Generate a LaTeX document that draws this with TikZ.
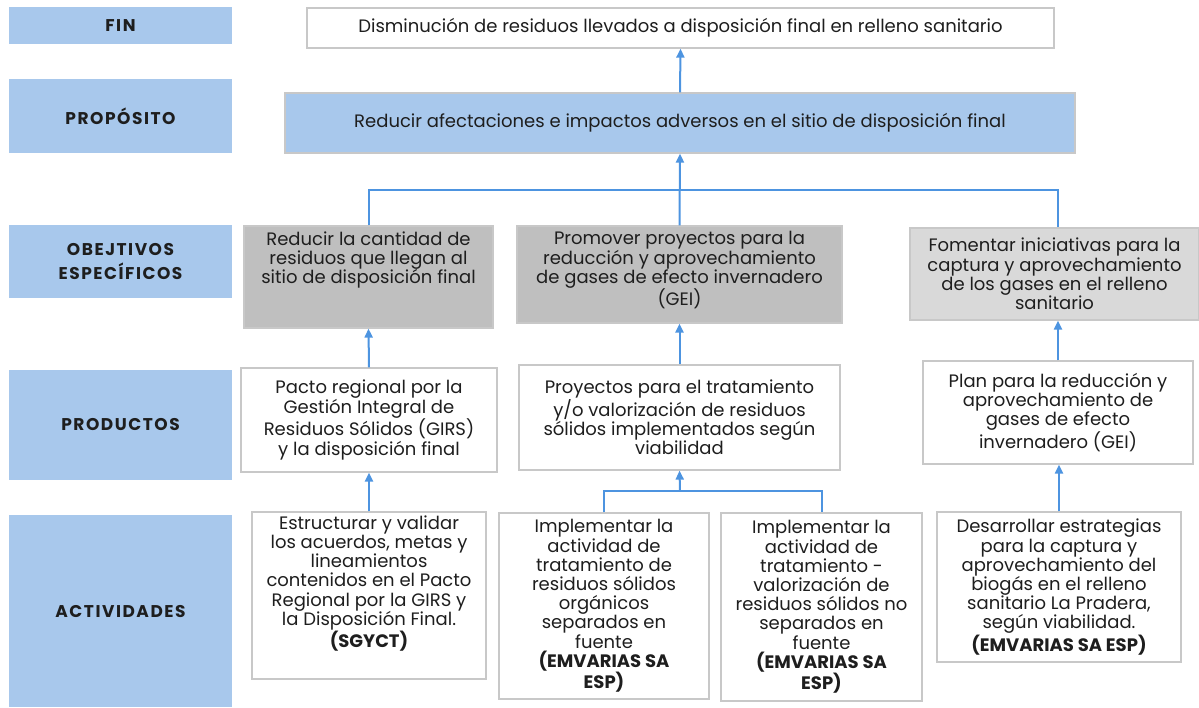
\documentclass[tikz,border=0pt]{standalone}
\usepackage{fontspec}
\setmainfont{Poppins}
\newfontfamily\capsfont{Poppins}[LetterSpace=9]
\usetikzlibrary{arrows.meta}
\definecolor{lblblue}{RGB}{168,200,236}
\definecolor{objgray}{RGB}{191,191,191}
\definecolor{objlight}{RGB}{217,217,217}
\definecolor{linkblue}{RGB}{77,148,224}
\definecolor{edgegray}{RGB}{200,200,200}
\definecolor{ink}{RGB}{30,30,30}

\begin{document}
\begin{tikzpicture}[x=1pt, y=-1pt,
	every node/.style={font=\fontsize{18}{19.2}\selectfont, text=ink, align=center, inner sep=0pt},
	lbl/.style={fill=lblblue, minimum width=223, font=\capsfont\bfseries\fontsize{17}{24}\selectfont},
	box/.style={draw=edgegray, line width=1.2pt, fill=white},
	link/.style={draw=linkblue, line width=2pt},
	up/.style={link, -{Triangle[width=8pt,length=9pt]}}]
	\useasboundingbox (0,0) rectangle (1199,707);
	\node[lbl, minimum height=37] (lfin) at (120.5,25.5) {FIN};
	\node[lbl, minimum height=74] (lprop) at (120.5,116) {PROPÓSITO};
	\node[lbl, minimum height=73] (lobj) at (120.5,261.5) {OBEJTIVOS\\ESPECÍFICOS};
	\node[lbl, minimum height=110] (lprod) at (120.5,425) {PRODUCTOS};
	\node[lbl, minimum height=192] (lact) at (120.5,611) {ACTIVIDADES};
	\node[box, minimum width=747, minimum height=40] (fin) at (680.5,28) {Disminución de residuos llevados a disposición final en relleno sanitario};
	\node[box, fill=lblblue, minimum width=790, minimum height=60] (prop) at (680,123) {Reducir afectaciones e impactos adversos en el sitio de disposición final};
	\node[box, fill=objgray, minimum width=249, minimum height=102] (obj1) at (368.5,277) {};
	\node[anchor=north] (obj1txt) at ([yshift=-6]obj1.north) {Reducir la cantidad de\\residuos que llegan al\\sitio de disposición final};
	\node[box, fill=objgray, minimum width=325, minimum height=97] (obj2) at (679.5,274.5) {};
	\node[anchor=north] (obj2txt) at ([yshift=-6]obj2.north) {Promover proyectos para la\\reducción y aprovechamiento\\de gases de efecto invernadero\\(GEI)};
	\node[box, fill=objlight, minimum width=289, minimum height=92] (obj3) at (1054.5,274) {Fomentar iniciativas para la\\captura y aprovechamiento\\de los gases en el relleno\\sanitario};
	\node[box, minimum width=256, minimum height=104] (prod1) at (369,420) {Pacto regional por la\\Gestión Integral de\\Residuos Sólidos (GIRS)\\y la disposición final};
	\node[box, minimum width=321, minimum height=105] (prod2) at (679.5,417.5) {Proyectos para el tratamiento\\y/o valorización de residuos\\sólidos implementados según\\viabilidad};
	\node[box, minimum width=270, minimum height=103] (prod3) at (1058,412.5) {Plan para la reducción y\\aprovechamiento de\\gases de efecto\\invernadero (GEI)};
	\node[box, minimum width=234, minimum height=167] (act1) at (369,595.5) {};
	\node[anchor=north] (act1txt) at ([yshift=-4]act1.north) {Estructurar y validar\\los acuerdos, metas y\\lineamientos\\contenidos en el Pacto\\Regional por la GIRS y\\la Disposición Final.\\\textbf{(SGYCT)}};
	\node[box, minimum width=210, minimum height=186] (act2a) at (604,606) {Implementar la\\actividad de\\tratamiento de\\residuos sólidos\\orgánicos\\separados en\\fuente\\\textbf{(EMVARIAS SA}\\\textbf{ESP)}};
	\node[box, minimum width=201, minimum height=188] (act2b) at (821.5,607) {Implementar la\\actividad de\\tratamiento -\\valorización de\\residuos sólidos no\\separados en\\fuente\\\textbf{(EMVARIAS SA}\\\textbf{ESP)}};
	\node[box, minimum width=244, minimum height=150] (act3) at (1059,587) {Desarrollar estrategias\\para la captura y\\aprovechamiento del\\biogás en el relleno\\sanitario La Pradera,\\según viabilidad.\\\textbf{(EMVARIAS SA ESP)}};
	\coordinate (bus) at (680,190);
	\coordinate (join) at (680,491);
	\draw[link] (obj1.north) |- (bus) -| ([xshift=3.5]obj3.north);
	\draw[link] (act2a.north) |- (join) -| (act2b.north);
	\foreach \u/\v in {prop/fin, obj2/prop, prod1/obj1, prod2/obj2, act1/prod1} {\draw[up] (\u.north) -- (\v.south);}
	\draw[up] (prod3.north) -- (prod3.north |- obj3.south);
	\draw[up] (act3.north) -- (act3.north |- prod3.south);
	\draw[up] (join) -- (prod2.south);
\end{tikzpicture}
\end{document}
